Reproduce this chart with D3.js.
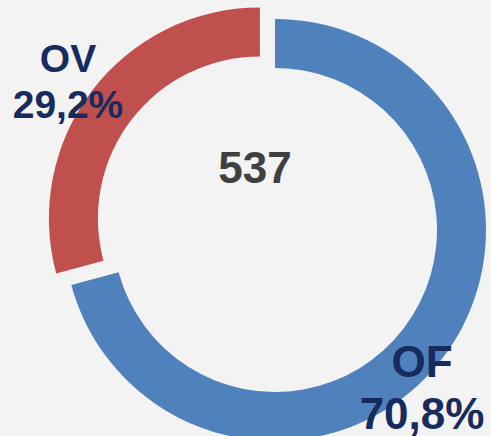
<!DOCTYPE html>
<html>
<head>
<meta charset="utf-8">
<script src="https://cdn.jsdelivr.net/npm/d3@7"></script>
<style>
  html, body { margin: 0; padding: 0; background: #f3f3f3; }
  svg { display: block; }
  text { font-family: "Liberation Sans", Arial, sans-serif; font-weight: bold; }
</style>
</head>
<body>
<svg width="491" height="436"></svg>
<script>
var categories = ['OF', 'OV'];
var shares = [70.8, 29.2];
var shareLabels = ['70,8%', '29,2%'];
var total = 537;

var colors = ['#4f81bd', '#c0504d'];

var svg = d3.select('svg');
var cx = 275, cy = 230;
var outerR = 211, innerR = 162;

var pie = d3.pie()
    .sort(null)
    .value(function (d) { return d; });

var arcs = pie(shares);

var arc = d3.arc()
    .innerRadius(innerR)
    .outerRadius(outerR);

// red slice pulled out of the ring
var explode = [0, 19];

var g = svg.append('g')
    .attr('transform', 'translate(' + cx + ',' + cy + ')');

g.selectAll('path')
    .data(arcs)
    .enter().append('path')
    .attr('d', arc)
    .attr('fill', function (d, i) { return colors[i]; })
    .attr('transform', function (d, i) {
        var a = (d.startAngle + d.endAngle) / 2;
        return 'translate(' + (Math.sin(a) * explode[i]) + ',' + (-Math.cos(a) * explode[i]) + ')';
    });

g.append('text')
    .attr('x', -20)
    .attr('y', -47)
    .attr('text-anchor', 'middle')
    .style('font-size', '44px')
    .attr('fill', '#404040')
    .text(total);

// label anchors, relative to the ring centre
var labelPos = [[147, 147], [-207, -158]];
var labelSize = [44, 39];

var labels = g.selectAll('.lbl')
    .data(arcs)
    .enter().append('text')
    .attr('class', 'lbl')
    .attr('text-anchor', 'middle')
    .attr('fill', '#172b5e')
    .style('font-size', function (d, i) { return labelSize[i] + 'px'; })
    .attr('transform', function (d, i) { return 'translate(' + labelPos[i][0] + ',' + labelPos[i][1] + ')'; });

labels.append('tspan')
    .attr('x', 0)
    .attr('y', 0)
    .text(function (d, i) { return categories[i]; });

labels.append('tspan')
    .attr('x', 0)
    .attr('dy', function (d, i) { return labelSize[i] * 1.18; })
    .text(function (d, i) { return shareLabels[i]; });
</script>
</body>
</html>
